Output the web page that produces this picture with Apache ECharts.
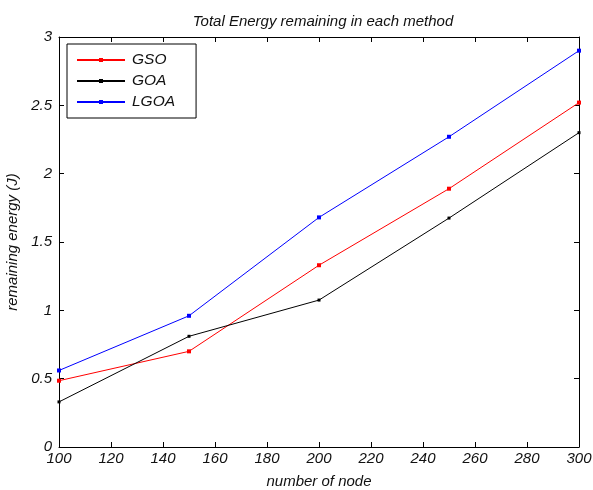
<!DOCTYPE html>
<html><head><meta charset="utf-8">
<script src="https://cdn.jsdelivr.net/npm/echarts@6/dist/echarts.min.js"></script>
<style>html,body{margin:0;padding:0;background:#fff}#c{width:593px;height:490px}</style>
</head><body><div id="c"></div>
<script>
const nodes = [100, 150, 200, 250, 300];
const gso = [0.485, 0.70, 1.33, 1.89, 2.52];
const goa = [0.33, 0.81, 1.075, 1.675, 2.30];
const lgoa = [0.56, 0.96, 1.68, 2.27, 2.90];
const seriesNames = ['GSO', 'GOA', 'LGOA'];
const seriesColors = ['#ff0000', '#000000', '#0000ff'];
const seriesData = [gso, goa, lgoa];

const font = 'Liberation Sans, Arial, sans-serif';
const chart = echarts.init(document.getElementById('c'));
const mk = (vals) => nodes.map((n, i) => [n, vals[i]]);
const axisCommon = {
  axisLine: {show: true, onZero: false, lineStyle: {color: '#000', width: 1}},
  axisTick: {show: true, inside: true, length: 5, lineStyle: {color: '#000'}},
  splitLine: {show: false}
};
chart.setOption({
  animation: false,
  backgroundColor: '#fff',
  title: {
    text: 'Total Energy remaining in each method',
    left: 318, top: 9, textAlign: 'center',
    textStyle: {fontFamily: font, fontStyle: 'italic', fontWeight: 'normal', fontSize: 15, color: '#111'}
  },
  grid: {left: 59, right: 14, top: 37, bottom: 43, containLabel: false, outerBoundsMode: 'none'},
  legend: {
    orient: 'vertical', left: 67, top: 44,
    backgroundColor: '#fff', borderColor: '#000', borderWidth: 1,
    padding: [8, 21, 8, 9], itemGap: 5, itemWidth: 48, itemHeight: 5,
    textStyle: {fontFamily: font, fontStyle: 'italic', fontSize: 15.5, color: '#111', padding: [0, 0, 0, 2]},
    data: seriesNames
  },
  xAxis: [
    Object.assign({}, axisCommon, {
      type: 'value', min: 100, max: 300, interval: 20, position: 'bottom',
      name: 'number of node', nameLocation: 'middle', nameGap: 27,
      nameTextStyle: {fontFamily: font, fontStyle: 'italic', fontSize: 15, color: '#111'},
      axisLabel: {fontFamily: font, fontStyle: 'italic', fontSize: 15, color: '#111', margin: 4, showMinLabel: true, showMaxLabel: true}
    }),
    Object.assign({}, axisCommon, {
      type: 'value', min: 100, max: 300, interval: 20, position: 'top',
      axisLabel: {show: false}
    })
  ],
  yAxis: [
    Object.assign({}, axisCommon, {
      type: 'value', min: 0, max: 3, interval: 0.5, position: 'left',
      name: 'remaining energy (J)', nameLocation: 'middle', nameGap: 35,
      nameTextStyle: {fontFamily: font, fontStyle: 'italic', fontSize: 15, color: '#111'},
      axisLabel: {fontFamily: font, fontStyle: 'italic', fontSize: 15, color: '#111', margin: 7}
    }),
    Object.assign({}, axisCommon, {
      type: 'value', min: 0, max: 3, interval: 0.5, position: 'right',
      axisLabel: {show: false}
    })
  ],
  series: seriesNames.map((name, i) => ({
    name, type: 'line', data: mk(seriesData[i]),
    xAxisIndex: 0, yAxisIndex: 0,
    symbol: 'rect', symbolSize: i === 1 ? 3 : 4,
    lineStyle: {color: seriesColors[i], width: 1},
    itemStyle: {color: seriesColors[i]},
    emphasis: {disabled: true}
  }))
});
</script></body></html>
